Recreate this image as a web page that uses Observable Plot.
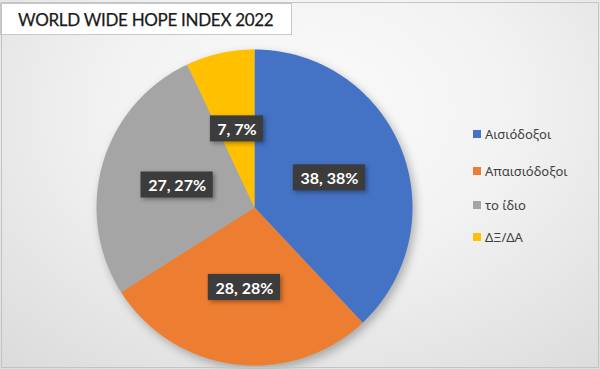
<!DOCTYPE html>
<html><head><meta charset="utf-8">
<script src="https://cdn.jsdelivr.net/npm/d3@7"></script>
<script src="https://cdn.jsdelivr.net/npm/@observablehq/plot@0.6"></script>
<style>
html,body{margin:0;padding:0;}
#wrap{position:relative;width:600px;height:369px;overflow:hidden;
  background:radial-gradient(ellipse 75% 90% at 52% 30%, #fbfbfb 0%, #f2f2f2 45%, #dcdcdc 100%);}
#frame{position:absolute;left:1px;top:2px;width:596px;height:364px;border:1px solid #c4c4c4;pointer-events:none;}
#title{position:absolute;left:0;top:3px;width:292px;height:32px;background:#fff;border:1px solid #c8c8c8;
  font-family:Lato,"Noto Sans",sans-serif;font-size:17px;color:#1a1a1a;line-height:32px;padding-left:17px;box-sizing:border-box;letter-spacing:-0.3px;-webkit-text-stroke:0.25px #1a1a1a;}
#legend{position:absolute;left:473px;top:0;font-family:"Noto Sans","Open Sans",sans-serif;font-size:13px;color:#404040;}
#legend .row{position:absolute;left:0;white-space:nowrap;display:flex;align-items:center;}
#legend .sw{width:8px;height:8px;margin-right:4px;}
svg g[aria-label="line"]{filter:drop-shadow(3px 4px 5px rgba(0,0,0,0.28));}
svg g[aria-label="rect"]{filter:drop-shadow(2px 2px 2px rgba(0,0,0,0.35));}
</style>
</head><body>
<div id="wrap"></div>
<script>
const title = "WORLD WIDE HOPE INDEX 2022";
const categories = ["Αισιόδοξοι","Απαισιόδοξοι","το ίδιο","ΔΞ/ΔΑ"];
const values = [38, 28, 27, 7];
const colors = ["#4472C4","#ED7D31","#A5A5A5","#FFC000"];

const W = 600, H = 369;
const mL = 96, mR = 188, mT = 49, mB = 4;
const unitPerPx = 2 / (W - mL - mR);

const total = d3.sum(values);
const arcs = d3.pie().sort(null).value(d => d)(values);

// slice polygons in unit-circle coordinates
const polys = [];
arcs.forEach((a, i) => {
  const name = categories[i];
  polys.push({name, x: 0, y: 0});
  const n = Math.max(2, Math.ceil((a.endAngle - a.startAngle) / (Math.PI / 360)));
  for (let k = 0; k <= n; k++) {
    const t = a.startAngle + (a.endAngle - a.startAngle) * k / n;
    polys.push({name, x: Math.sin(t), y: Math.cos(t)});
  }
  polys.push({name, x: 0, y: 0});
});

const labels = arcs.map((a, i) => {
  const m = (a.startAngle + a.endAngle) / 2;
  const r = 0.51;
  const text = `${values[i]}, ${Math.round(values[i] / total * 100)}%`;
  const hw = (4.8 * text.length + 2.5) * unitPerPx;
  const hh = 13 * unitPerPx;
  const x = Math.sin(m) * r, y = Math.cos(m) * r;
  return {text, x, y, x1: x - hw, x2: x + hw, y1: y - hh, y2: y + hh};
});

const chart = Plot.plot({
  width: W, height: H,
  marginLeft: mL, marginRight: mR, marginTop: mT, marginBottom: mB,
  x: {domain: [-1, 1], axis: null},
  y: {domain: [-1, 1], axis: null},
  color: {domain: categories, range: colors},
  style: {background: "transparent", overflow: "visible"},
  marks: [
    Plot.line(polys, {x: "x", y: "y", z: "name", fill: "name", stroke: "none", curve: "linear"}),
    Plot.rect(labels, {x1: "x1", x2: "x2", y1: "y1", y2: "y2", fill: "#3c3c3c"}),
    Plot.text(labels, {x: "x", y: "y", text: "text", fill: "white", fontSize: 16, fontWeight: "bold",
      fontFamily: "Lato, 'Open Sans', sans-serif", dy: 1})
  ]
});
chart.style.position = "absolute";
chart.style.left = "0px";
chart.style.top = "0px";

const wrap = document.getElementById("wrap");
wrap.appendChild(chart);

const t = document.createElement("div");
t.id = "title"; t.textContent = title;
wrap.appendChild(t);

const lg = document.createElement("div");
lg.id = "legend";
const rowY = [134, 171, 205, 237];
categories.forEach((c, i) => {
  const r = document.createElement("div");
  r.className = "row";
  r.style.top = (rowY[i] - 9) + "px";
  r.style.height = "18px";
  const s = document.createElement("span");
  s.className = "sw"; s.style.background = colors[i];
  const l = document.createElement("span");
  l.textContent = c;
  r.appendChild(s); r.appendChild(l);
  lg.appendChild(r);
});
wrap.appendChild(lg);

const f = document.createElement("div");
f.id = "frame";
wrap.appendChild(f);
</script>
</body></html>
